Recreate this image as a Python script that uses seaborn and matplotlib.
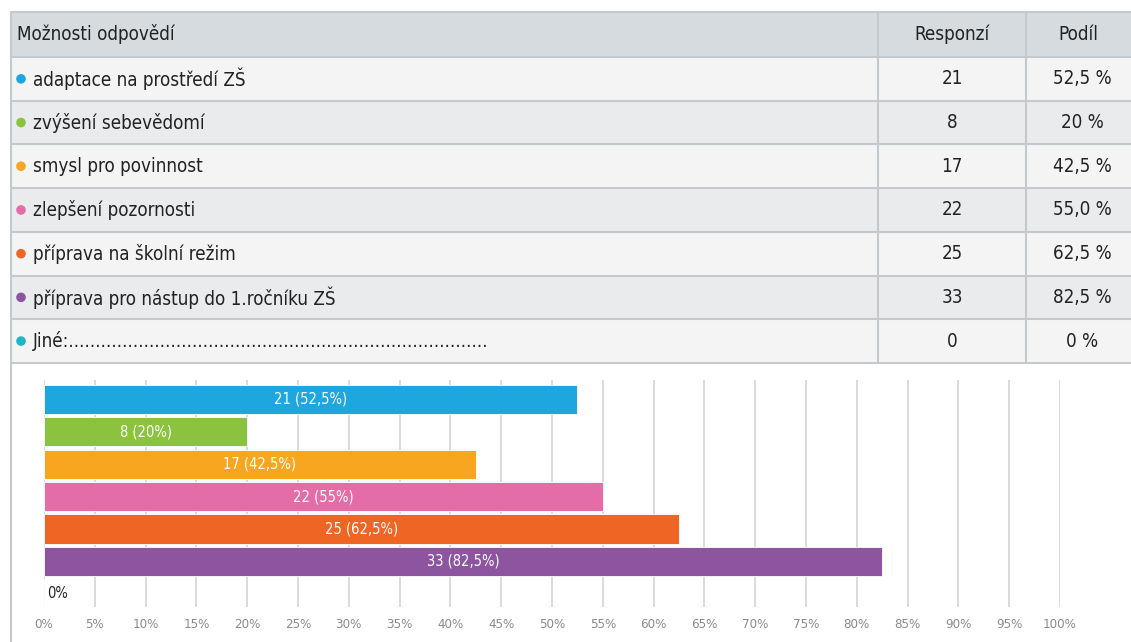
import matplotlib
matplotlib.use("Agg")
import matplotlib.pyplot as plt
import seaborn as sns
import pandas as pd
from matplotlib.patches import Rectangle, Circle

# ---------------- data ----------------
categories = ["adaptace na prostředí ZŠ", "zvýšení sebevědomí", "smysl pro povinnost",
              "zlepšení pozornosti", "příprava na školní režim",
              "příprava pro nástup do 1.ročníku ZŠ", "Jiné:" + "." * 78]
responses = [21, 8, 17, 22, 25, 33, 0]
percent = [52.5, 20, 42.5, 55, 62.5, 82.5, 0]
share_text = ["52,5 %", "20 %", "42,5 %", "55,0 %", "62,5 %", "82,5 %", "0 %"]
bar_labels = ["21 (52,5%)", "8 (20%)", "17 (42,5%)", "22 (55%)", "25 (62,5%)", "33 (82,5%)", "0%"]
colors = ["#1ea7df", "#8bc240", "#f8a51f", "#e46da8", "#ef6523", "#8d55a0", "#1fb5c8"]
header = ["Možnosti odpovědí", "Responzí", "Podíl"]
xticks = list(range(0, 101, 5))
xtick_labels = [f"{t}%" for t in xticks]

sns.set_theme(style="white")
plt.rcParams['font.family'] = ['DejaVu Sans']
plt.rcParams['font.stretch'] = 'condensed'

W, H = 1131, 642
fig = plt.figure(figsize=(W / 100, H / 100), dpi=100)
fig.patch.set_facecolor("white")

# ---------------- table (pixel coordinates) ----------------
tab = fig.add_axes([0, 0, 1, 1])
tab.set_xlim(0, W)
tab.set_ylim(H, 0)
tab.axis("off")

left, right = 11, 1131
col1, col2 = 878, 1026
top = 12
head_h = 45
row_h = 43.7
border = "#c3c9cc"

tab.add_patch(Rectangle((left, top), right - left, head_h, facecolor="#d5dbde", edgecolor="none"))
for i in range(len(categories)):
    y0 = top + head_h + i * row_h
    fc = "#f4f4f4" if i % 2 == 0 else "#e9ebec"
    tab.add_patch(Rectangle((left, y0), right - left, row_h, facecolor=fc, edgecolor="none"))
table_bottom = top + head_h + len(categories) * row_h

tab.plot([left, right], [top, top], color=border, lw=1.5)
for i in range(len(categories) + 1):
    y = top + head_h + i * row_h
    tab.plot([left, right], [y, y], color=border, lw=1.5)
tab.plot([left, left], [top, H], color=border, lw=1.5)
for xc in (col1, col2):
    tab.plot([xc, xc], [top, table_bottom], color=border, lw=1.5)

fs = 13.5
tcol = "#222222"
tab.text(17, top + head_h / 2, header[0], fontsize=fs, va="center", ha="left", color=tcol, fontstretch="condensed")
tab.text((col1 + col2) / 2, top + head_h / 2, header[1], fontsize=fs, va="center", ha="center", color=tcol, fontstretch="condensed")
tab.text((col2 + right) / 2, top + head_h / 2, header[2], fontsize=fs, va="center", ha="center", color=tcol, fontstretch="condensed")

for i, (cat, r, s) in enumerate(zip(categories, responses, share_text)):
    yc = top + head_h + (i + 0.5) * row_h
    tab.add_patch(Circle((21, yc), 4.8, facecolor=colors[i], edgecolor="none"))
    tab.text(33, yc, cat, fontsize=fs, va="center", ha="left", color=tcol, fontstretch="condensed")
    tab.text((col1 + col2) / 2, yc, str(r), fontsize=fs, va="center", ha="center", color=tcol, fontstretch="condensed")
    tab.text((col2 + right) / 2 + 4, yc, s, fontsize=fs, va="center", ha="center", color=tcol, fontstretch="condensed")

# ---------------- bar chart ----------------
x0, x1 = 44, 1060
y_top, y_bot = 380, 606.8
ax = fig.add_axes([x0 / W, 1 - y_bot / H, (x1 - x0) / W, (y_bot - y_top) / H])
ax.set_facecolor("none")

df = pd.DataFrame({"cat": categories, "pct": percent})
sns.barplot(data=df, x="pct", y="cat", hue="cat", palette=colors, legend=False,
            orient="h", width=0.9, saturation=1, ax=ax, zorder=3,
            edgecolor="white", linewidth=0.6)

ax.set_xlim(0, 100)
ax.set_ylim(6.4, -0.6)
ax.set_xticks(xticks)
ax.set_xticklabels(xtick_labels, fontsize=9.5, color="#8a8a8a", fontstretch="condensed")
ax.tick_params(axis="x", length=0, pad=8)
ax.set_yticks([0, 2.5, 5])
ax.set_yticklabels([])
ax.tick_params(axis="y", length=4, color="#cccccc", width=0.8)
ax.grid(axis="x", color="#d4d4d4", lw=1.2, zorder=0)
ax.set_axisbelow(True)
for sp in ax.spines.values():
    sp.set_visible(False)
ax.set_xlabel("")
ax.set_ylabel("")

for i, (p, lab) in enumerate(zip(percent, bar_labels)):
    if p > 0:
        ax.text(p / 2, i, lab, ha="center", va="center", color="white",
                fontsize=10.5, fontstretch="condensed", zorder=5)
    else:
        ax.text(0.3, i, lab, ha="left", va="center", color="#222222",
                fontsize=10.5, fontstretch="condensed", zorder=5)

fig.savefig("out.png", dpi=100, facecolor="white")
